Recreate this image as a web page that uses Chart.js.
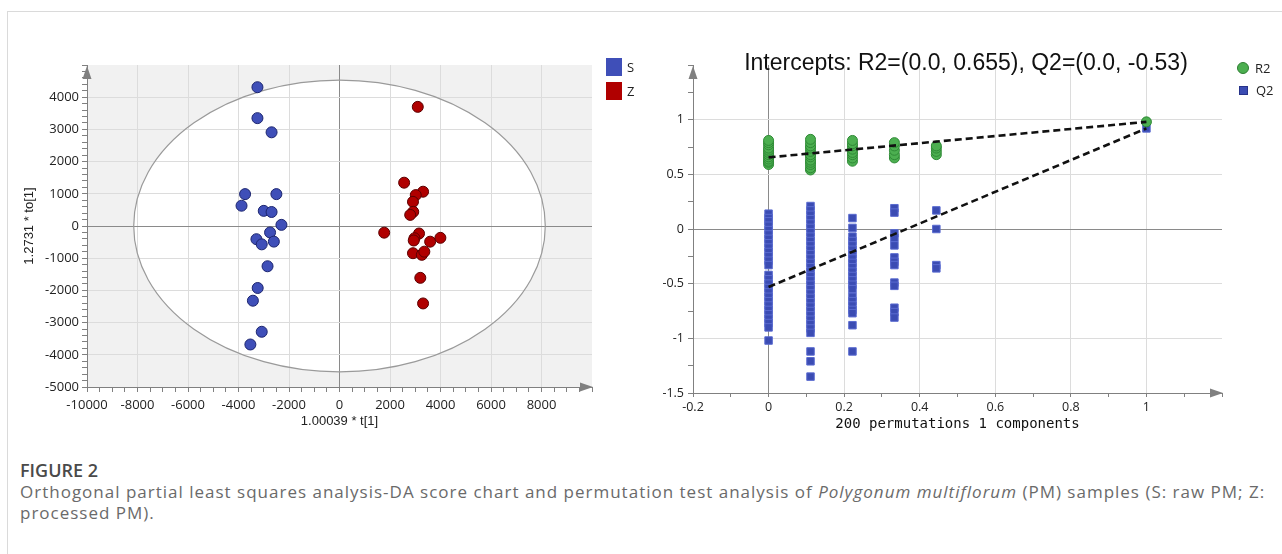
<!DOCTYPE html>
<html>
<head>
<meta charset="utf-8">
<script src="https://cdn.jsdelivr.net/npm/chart.js@4.4.1/dist/chart.umd.min.js"></script>
<style>
  html, body { margin: 0; padding: 0; background: #fff; }
  body { width: 1282px; height: 554px; position: relative; overflow: hidden; font-family: "Open Sans", "Noto Sans", sans-serif; }
  .frame { position: absolute; left: 7px; top: 11px; right: -2px; bottom: -2px; border-left: 1px solid #dadada; border-top: 1px solid #dadada; }
  canvas { position: absolute; top: 0; }
  #scoreChart { left: 0; }
  #permChart { left: 640px; }
  .lg { position: absolute; font-size: 13px; color: #222; line-height: 18px; display: flex; align-items: center; }
  .lg .box { display: inline-block; width: 16px; height: 18px; margin-right: 5px; }
  .lg .dot { display: inline-block; width: 10px; height: 10px; border-radius: 50%; margin-right: 6px; background: #4caf50; border: 1px solid #2e7d32; }
  .lg .sq { display: inline-block; width: 7px; height: 7px; margin: 0 8px 0 2px; background: #3b4cb3; border: 1px solid #27338a; }
  #permTitle { position: absolute; left: 966px; top: 48px; transform: translateX(-50%); font-family: "Liberation Sans", Arial, sans-serif; font-size: 23px; line-height: 28px; color: #111; white-space: nowrap; }
  .cap-head { position: absolute; left: 20px; top: 458px; font-size: 18px; font-weight: 600; color: #4a4a4a; }
  .cap-text { position: absolute; left: 20px; top: 481px; font-size: 17px; line-height: 21px; letter-spacing: 1px; color: #6a6a6a; white-space: nowrap; }
</style>
</head>
<body>
<div class="frame"></div>
<canvas id="scoreChart" width="640" height="450"></canvas>
<canvas id="permChart" width="642" height="450"></canvas>

<div class="lg" style="left:606px;top:58px"><span class="box" style="background:#3f4fb8"></span>S</div>
<div class="lg" style="left:606px;top:82px"><span class="box" style="background:#b00000"></span>Z</div>
<div class="lg" style="left:1237px;top:59px"><span class="dot"></span>R2</div>
<div class="lg" style="left:1237px;top:81px"><span class="sq"></span>Q2</div>
<div id="permTitle">Intercepts: R2=(0.0, 0.655), Q2=(0.0, -0.53)</div>

<div class="cap-head">FIGURE 2</div>
<div class="cap-text">Orthogonal partial least squares analysis-DA score chart and permutation test analysis of <i>Polygonum multiflorum</i> (PM) samples (S: raw PM; Z:<br>processed PM).</div>

<script>
'use strict';

/* ── Score plot data (OPLS-DA) ───────────────────────────────────────────── */
const sX = [-3250, -3250, -2690, -3740, -2500, -3880, -3000, -2690, -2300, -2750, -3290, -3080, -2600, -2850, -3240, -3430, -3080, -3530];
const sY = [4310, 3350, 2910, 990, 990, 630, 470, 435, 35, -200, -410, -570, -485, -1250, -1925, -2320, -3285, -3680];
const zX = [3100, 2560, 3310, 3020, 2910, 2920, 2800, 1770, 3150, 2970, 2940, 3590, 3995, 2910, 3260, 3360, 3200, 3310];
const zY = [3700, 1345, 1065, 960, 750, 440, 345, -207, -233, -380, -450, -487, -367, -845, -895, -797, -1610, -2405];
const ellipseRx = 8150;   // Hotelling T2 ellipse, t[1] half-axis
const ellipseRy = 4530;   // to[1] half-axis

/* ── Permutation test data ───────────────────────────────────────────────── */
const corrLevels = [0, 0.111, 0.222, 0.333, 0.444];
const r2Permuted = [
    [0.59, 0.61, 0.62, 0.64, 0.66, 0.68, 0.70, 0.72, 0.74, 0.77, 0.79, 0.81],
    [0.54, 0.56, 0.59, 0.61, 0.63, 0.66, 0.68, 0.71, 0.74, 0.76, 0.79, 0.82],
    [0.62, 0.65, 0.68, 0.70, 0.73, 0.76, 0.78, 0.81],
    [0.65, 0.68, 0.72, 0.76, 0.79],
    [0.68, 0.71, 0.74, 0.76],
];
const q2Permuted = [
    [0.14, 0.10, 0.07, 0.03, -0.01, -0.05, -0.09, -0.13, -0.17, -0.21, -0.25, -0.29, -0.33,
     -0.42, -0.46, -0.50, -0.54, -0.58, -0.62, -0.66, -0.70, -0.74, -0.78, -0.82, -0.86, -0.90, -1.02],
    [0.21, 0.17, 0.13, 0.09, 0.05, 0.01, -0.03, -0.07, -0.11, -0.15, -0.19, -0.23, -0.27, -0.31, -0.35,
     -0.39, -0.43, -0.47, -0.51, -0.55, -0.59, -0.63, -0.67, -0.71, -0.75, -0.79, -0.83, -0.87, -0.91, -0.95,
     -1.12, -1.21, -1.35],
    [0.10, 0.01, -0.07, -0.11, -0.15, -0.19, -0.23, -0.27, -0.31, -0.35, -0.39, -0.43, -0.47, -0.51, -0.55,
     -0.62, -0.66, -0.70, -0.74, -0.77, -0.88, -1.12],
    [0.19, 0.15, -0.04, -0.08, -0.15, -0.26, -0.30, -0.33, -0.49, -0.52, -0.72, -0.76, -0.81],
    [0.17, 0.00, -0.33, -0.36],
];
const r2Original = 0.98;
const q2Original = 0.92;
const r2Intercept = 0.655;
const q2Intercept = -0.53;

/* ── Shared styling ──────────────────────────────────────────────────────── */
const GRID = '#dcdcdc';
const ZERO = '#8a8a8a';
const AXIS = '#808080';
const NONE = 'rgba(0,0,0,0)';
const TICK_FONT = { family: '"Open Sans", "Noto Sans", sans-serif', size: 13 };

Chart.defaults.color = '#222';
Chart.defaults.animation = false;

function toPoints(xs, ys) {
    return xs.map((x, i) => ({ x, y: ys[i] }));
}

function drawArrowUp(ctx, x, y) {
    ctx.beginPath();
    ctx.moveTo(x, y);
    ctx.lineTo(x - 4.5, y + 13);
    ctx.lineTo(x + 4.5, y + 13);
    ctx.closePath();
    ctx.fill();
}

function drawArrowRight(ctx, x, y) {
    ctx.beginPath();
    ctx.moveTo(x, y);
    ctx.lineTo(x - 13, y - 4.5);
    ctx.lineTo(x - 13, y + 4.5);
    ctx.closePath();
    ctx.fill();
}

/* ── Score plot: grey frame, white T2 ellipse, axis arrows ───────────────── */
const ellipsePlugin = {
    id: 'ellipse',
    beforeDraw(chart) {
        const { ctx, chartArea: a, scales: { x, y } } = chart;
        ctx.save();
        ctx.fillStyle = '#f1f1f1';
        ctx.fillRect(a.left, a.top, a.right - a.left, a.bottom - a.top);
        const cx = x.getPixelForValue(0), cy = y.getPixelForValue(0);
        ctx.beginPath();
        ctx.ellipse(cx, cy, x.getPixelForValue(ellipseRx) - cx, cy - y.getPixelForValue(ellipseRy), 0, 0, Math.PI * 2);
        ctx.fillStyle = '#fff';
        ctx.fill();
        ctx.restore();
    },
    beforeDatasetsDraw(chart) {
        const { ctx, chartArea: a, scales: { x, y } } = chart;
        const cx = x.getPixelForValue(0), cy = y.getPixelForValue(0);
        ctx.save();
        ctx.beginPath();
        ctx.ellipse(cx, cy, x.getPixelForValue(ellipseRx) - cx, cy - y.getPixelForValue(ellipseRy), 0, 0, Math.PI * 2);
        ctx.strokeStyle = '#9a9a9a';
        ctx.lineWidth = 1.2;
        ctx.stroke();
        ctx.fillStyle = AXIS;
        drawArrowUp(ctx, a.left, a.top + 1);
        drawArrowRight(ctx, a.right + 1, a.bottom);
        ctx.restore();
    },
};

const arrowPlugin = {
    id: 'arrows',
    beforeDatasetsDraw(chart) {
        const { ctx, chartArea: a } = chart;
        ctx.save();
        ctx.fillStyle = AXIS;
        drawArrowUp(ctx, a.left, a.top + 1);
        drawArrowRight(ctx, a.right + 1, a.bottom);
        ctx.restore();
    },
};

/* ── Score plot ──────────────────────────────────────────────────────────── */
new Chart(document.getElementById('scoreChart'), {
    type: 'scatter',
    data: {
        datasets: [
            {
                label: 'S',
                data: toPoints(sX, sY),
                backgroundColor: '#3f4fb8',
                borderColor: '#1d2670',
                borderWidth: 1,
                pointRadius: 5.5,
            },
            {
                label: 'Z',
                data: toPoints(zX, zY),
                backgroundColor: '#b00000',
                borderColor: '#5c0000',
                borderWidth: 1,
                pointRadius: 5.5,
            },
        ],
    },
    options: {
        responsive: false,
        layout: { padding: { top: 65, left: 0, right: 48, bottom: 0 } },
        plugins: { legend: { display: false }, tooltip: { enabled: false } },
        scales: {
            x: {
                min: -10000, max: 10000,
                afterFit: s => { s.height = 63; },
                ticks: {
                    stepSize: 500, autoSkip: false, maxRotation: 0, padding: 5, font: TICK_FONT,
                    callback: v => (v % 2000 === 0 && v < 10000) ? String(v) : '',
                },
                grid: {
                    tickLength: 5, tickColor: AXIS,
                    color: c => {
                        const v = c.tick && c.tick.value;
                        if (v === 0) return ZERO;
                        return (v % 2000 === 0 && v > -10000 && v < 10000) ? GRID : NONE;
                    },
                },
                border: { color: AXIS },
                title: { display: true, text: '1.00039 * t[1]', font: { size: 13 }, padding: { top: 0, bottom: 21 } },
            },
            y: {
                min: -5000, max: 5000,
                afterFit: s => { s.width = 87; },
                ticks: {
                    stepSize: 200, autoSkip: false, padding: 3, font: TICK_FONT,
                    callback: v => (v % 1000 === 0 && v < 5000) ? String(v) : '',
                },
                grid: {
                    tickLength: 5, tickColor: AXIS,
                    color: c => {
                        const v = c.tick && c.tick.value;
                        if (v === 0) return ZERO;
                        return (v % 1000 === 0 && v > -5000 && v < 5000) ? GRID : NONE;
                    },
                },
                border: { color: AXIS },
                title: { display: true, text: '1.2731 * to[1]', font: { size: 13 }, padding: { top: 22, bottom: 0 } },
            },
        },
    },
    plugins: [ellipsePlugin],
});

/* ── Permutation plot ────────────────────────────────────────────────────── */
const r2Points = [];
const q2Points = [];
corrLevels.forEach((lvl, i) => {
    r2Permuted[i].forEach(v => r2Points.push({ x: lvl, y: v }));
    q2Permuted[i].forEach(v => q2Points.push({ x: lvl, y: v }));
});
r2Points.push({ x: 1, y: r2Original });
q2Points.push({ x: 1, y: q2Original });

const dashed = {
    showLine: true,
    borderColor: '#111',
    borderWidth: 2.6,
    borderDash: [7, 4],
    pointRadius: 0,
    fill: false,
};

new Chart(document.getElementById('permChart'), {
    type: 'scatter',
    data: {
        datasets: [
            { ...dashed, label: 'R2 fit', data: [{ x: 0, y: r2Intercept }, { x: 1, y: r2Original }], order: 0 },
            { ...dashed, label: 'Q2 fit', data: [{ x: 0, y: q2Intercept }, { x: 1, y: q2Original }], order: 1 },
            {
                label: 'R2', data: r2Points, order: 2,
                backgroundColor: '#4caf50', borderColor: '#2f8a36', borderWidth: 1, pointRadius: 5,
            },
            {
                label: 'Q2', data: q2Points, order: 3, pointStyle: 'rect',
                backgroundColor: '#3b4cb3', borderColor: '#5a6bd0', borderWidth: 1, pointRadius: 5.3,
            },
        ],
    },
    options: {
        responsive: false,
        layout: { padding: { top: 65, left: 0, right: 60, bottom: 0 } },
        plugins: { legend: { display: false }, tooltip: { enabled: false } },
        scales: {
            x: {
                min: -0.2, max: 1.2,
                afterFit: s => { s.height = 57; },
                ticks: {
                    stepSize: 0.1, autoSkip: false, maxRotation: 0, padding: 3, font: { ...TICK_FONT, size: 12.5 },
                    callback: v => {
                        const k = Math.round(v * 10);
                        return (k % 2 === 0 && k <= 10) ? String(k / 10) : '';
                    },
                },
                grid: {
                    tickLength: 4, tickColor: AXIS,
                    color: c => {
                        if (!c.tick) return NONE;
                        const k = Math.round(c.tick.value * 10);
                        if (k === 0) return ZERO;
                        return (k % 2 === 0 && k > -2 && k < 12) ? GRID : NONE;
                    },
                },
                border: { color: AXIS },
                title: {
                    display: true, text: '200 permutations 1 components',
                    font: { family: '"DejaVu Sans Mono", monospace', size: 14 }, color: '#111',
                    padding: { top: 0, bottom: 17 },
                },
            },
            y: {
                min: -1.5, max: 1.5,
                afterFit: s => { s.width = 53; },
                ticks: {
                    stepSize: 0.25, autoSkip: false, padding: 4, font: { ...TICK_FONT, size: 12.5 },
                    callback: v => {
                        const k = Math.round(v * 4);
                        return (k % 2 === 0 && k <= 4) ? String(k / 4) : '';
                    },
                },
                grid: {
                    tickLength: 5, tickColor: AXIS,
                    color: c => {
                        if (!c.tick) return NONE;
                        const k = Math.round(c.tick.value * 4);
                        if (k === 0) return ZERO;
                        return (k % 2 === 0 && k > -6 && k < 6) ? GRID : NONE;
                    },
                },
                border: { color: AXIS },
            },
        },
    },
    plugins: [arrowPlugin],
});
</script>
</body>
</html>
